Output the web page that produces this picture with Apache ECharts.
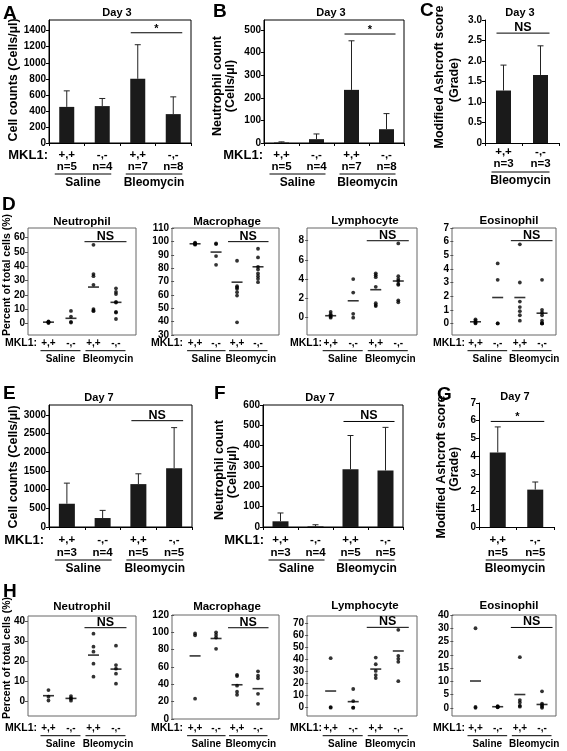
<!DOCTYPE html>
<html><head><meta charset="utf-8">
<script src="https://cdn.jsdelivr.net/npm/echarts@6/dist/echarts.min.js"></script>
<style>html,body{margin:0;padding:0;background:#fff}#c{width:567px;height:751px}</style>
</head><body><div id="c"></div>
<script>
// ================= DATA =================
const genotypes = ['+,+', '-,-', '+,+', '-,-'];
const genotypes2 = ['+,+', '-,-'];

// Day 3 bar panels
const nDay3 = ['n=5', 'n=4', 'n=7', 'n=8'];
const cellsDay3 = [450, 460, 800, 360];
const cellsDay3ErrTop = [650, 555, 1225, 575];
const neutDay3 = [2, 17, 235, 61];
const neutDay3ErrTop = [5, 40, 452, 130];
const nAsh3 = ['n=3', 'n=3'];
const ashDay3 = [1.28, 1.66];
const ashDay3ErrTop = [1.9, 2.37];

// Day 7 bar panels
const nDay7 = ['n=3', 'n=4', 'n=5', 'n=5'];
const cellsDay7 = [623, 240, 1149, 1576];
const cellsDay7ErrTop = [1175, 445, 1425, 2662];
const neutDay7 = [28, 3, 284, 278];
const neutDay7ErrTop = [69, 11, 450, 490];
const nAsh7 = ['n=5', 'n=5'];
const ashDay7 = [4.21, 2.11];
const ashDay7ErrTop = [5.65, 2.54];

// D: day 3 differential (%), dots per group and group mean
const dNeut = [[0.2, 0.6, 1.0, 1.4, 0.8], [8.7, 4.7, 1.0, 0.5], [55, 34.5, 33, 27, 10, 9, 8.5], [24.5, 22, 20.5, 15, 14.5, 8, 7.5, 3]];
const dNeutMean = [0.8, 3.5, 25.4, 14.7];
const dMac = [[97.5, 98, 98.5, 99, 98.2], [98.5, 98, 89, 82.5], [85.5, 66.5, 65.5, 64.5, 62, 59.5, 39.5], [94.5, 88, 81, 79, 76, 74, 72, 69.5]];
const dMacMean = [98.2, 92, 69.5, 81];
const dLym = [[0.6, 0.35, 0.2, 0.1, 0], [4.0, 2.6, 0.4, 0], [4.6, 4.4, 4.2, 3.2, 1.5, 1.3, 1.2], [7.7, 4.3, 4.0, 3.8, 3.5, 3.4, 1.8, 1.6]];
const dLymMean = [0.2, 1.75, 2.9, 3.8];
const dEos = [[0, 0.05, 0.1, 0.2, 0.3], [4.4, 3.2, 0, 0], [5.8, 3.0, 1.6, 1.2, 0.9, 0.6, 0.2], [3.2, 1.0, 0.8, 0.6, 0.2, 0, 0, 0]];
const dEosMean = [0.12, 1.9, 1.9, 0.75];

// H: day 7 differential (%)
const hNeut = [[5.8, 2.5, 0.6], [2.8, 1.8, 1.5, 0.5], [34, 27.5, 25, 19, 12.5], [28, 18.3, 16.5, 14, 9]];
const hNeutMean = [3.0, 1.65, 23.3, 16.3];
const hMac = [[98.7, 96.5, 23.5], [100, 97, 94, 81], [51, 49.5, 38.5, 31.5, 28], [55, 50, 47, 29, 17.5]];
const hMacMean = [72.8, 92.9, 39.5, 35];
const hLym = [[41, 0.5, 0], [15.5, 5.5, 0, 0], [41.5, 36, 30.5, 27, 24.5], [64.5, 43, 40.5, 38, 22]];
const hLymMean = [13.8, 5, 32, 47];
const hEos = [[30, 0.3, 0], [0.6, 0.4, 0.2, 0.3], [19.1, 2.9, 2, 0.8, 0.4], [6.2, 1.6, 1.0, 0.4, 0]];
const hEosMean = [10.1, 0.4, 5, 1.25];

// tick values and tick labels
const ticksCells3 = [0, 200, 400, 600, 800, 1000, 1200, 1400];
const ticksNeut3 = [0, 100, 200, 300, 400, 500];
const ticksAsh3 = [0, 0.5, 1, 1.5, 2, 2.5, 3];
const labelsAsh3 = ['0', '0.5', '1.0', '1.5', '2.0', '2.5', '3.0'];
const ticksCells7 = [0, 500, 1000, 1500, 2000, 2500, 3000];
const ticksNeut7 = [0, 100, 200, 300, 400, 500, 600];
const ticksAsh7 = [0, 1, 2, 3, 4, 5, 6, 7];
const ticksDNeut = [0, 10, 20, 30, 40, 50, 60];
const ticksDMac = [30, 40, 50, 60, 70, 80, 90, 100, 110];
const ticksDLym = [0, 2, 4, 6, 8];
const ticksDEos = [0, 1, 2, 3, 4, 5, 6, 7];
const ticksHNeut = [0, 10, 20, 30, 40];
const ticksHMac = [0, 20, 40, 60, 80, 100, 120];
const ticksHLym = [0, 10, 20, 30, 40, 50, 60, 70];
const ticksHEos = [0, 5, 10, 15, 20, 25, 30, 35];
const labelsHEos = ['0', '5', '10', '15', '20', '25', '30', '40'];

// ================= LAYOUT =================
const FONT = '"Liberation Sans", Arial, Helvetica, sans-serif';
const grids = [], xAxes = [], yAxes = [], series = [], graphics = [];

function txt(x, y, text, size, opt) {
  opt = opt || {};
  graphics.push({type: 'text', x: x, y: y, rotation: opt.rot || 0, silent: true, z: 10,
    style: {text: text, fill: '#000', font: 'bold ' + size + 'px ' + FONT,
      textAlign: opt.align || 'center', textVerticalAlign: 'middle'}});
}
function seg(x1, y1, x2, y2, c) {
  graphics.push({type: 'line', silent: true, z: 10, shape: {x1: x1, y1: y1, x2: x2, y2: y2},
    style: {stroke: c || '#000', lineWidth: 1}});
}
function lookup(ticks, labels) {
  return function (v) {
    for (let i = 0; i < ticks.length; i++) if (Math.abs(ticks[i] - v) < 1e-6) return labels ? labels[i] : String(ticks[i]);
    return '';
  };
}

function errItem(params, api) {
  const x = api.value(0);
  const p1 = api.coord([x, api.value(1)]);
  const p2 = api.coord([x, api.value(2)]);
  const st = {stroke: '#222', lineWidth: 1};
  return {type: 'group', children: [
    {type: 'line', shape: {x1: p1[0], y1: p1[1], x2: p2[0], y2: p2[1]}, style: st},
    {type: 'line', shape: {x1: p2[0] - 3, y1: p2[1], x2: p2[0] + 3, y2: p2[1]}, style: st}
  ]};
}

function barPanel(P) {
  const gi = grids.length;
  const n = P.vals.length;
  grids.push({left: P.l, top: P.t, width: P.r - P.l, height: P.b - P.t, show: P.frame,
    borderColor: '#000', borderWidth: 1, backgroundColor: 'transparent'});
  const lh = P.lh;
  xAxes.push({type: 'category', gridIndex: gi, data: P.geno.map((g, i) => g + '\n' + P.n[i]), boundaryGap: true,
    axisLine: {show: true, lineStyle: {color: '#000', width: 1}},
    axisTick: {show: true, length: 3, lineStyle: {color: '#000'}},
    axisLabel: {interval: 0, margin: P.labY - P.b - lh / 2, color: '#000', fontFamily: FONT, fontWeight: 'bold', fontSize: 11.5, lineHeight: lh},
    splitLine: {show: false}});
  yAxes.push({type: 'value', gridIndex: gi, min: 0, max: P.ymax,
    axisLine: {show: true, lineStyle: {color: '#000'}},
    axisTick: {show: true, length: 3, customValues: P.ticks, lineStyle: {color: '#000'}},
    axisLabel: {customValues: P.ticks, formatter: lookup(P.ticks, P.tickLabels), margin: 3, color: '#000', fontFamily: FONT, fontWeight: 'bold', fontSize: 10},
    splitLine: {show: false}});
  series.push({type: 'bar', xAxisIndex: gi, yAxisIndex: gi, data: P.vals, barWidth: P.bw, itemStyle: {color: '#1a1a1a'}, silent: true});
  series.push({type: 'custom', xAxisIndex: gi, yAxisIndex: gi, data: P.vals.map((v, i) => [i, v, P.err[i]]),
    encode: {x: 0, y: [1, 2]}, renderItem: errItem, silent: true, z: 3});
  const cx = i => P.l + (i + 0.5) * (P.r - P.l) / n;
  const yv = v => P.b - v / P.ymax * (P.b - P.t);
  txt(P.titleX, P.titleY, P.title, 11);
  const sy = yv(P.sig.y);
  seg(cx(P.sig.i) - 7, sy, cx(P.sig.j) + 9, sy);
  txt((cx(P.sig.i) - 7 + cx(P.sig.j) + 9) / 2, sy - (P.sig.txt === '*' ? 4 : 5.5), P.sig.txt, P.sig.txt === '*' ? 11 : 12.5);
  P.groups.forEach(g => {
    const x1 = cx(g[0]) - 12, x2 = cx(g[1]) + 9;
    seg(x1, P.ulY, x2, P.ulY);
    txt((x1 + x2) / 2, P.grpY, g[2], 12);
  });
  if (P.mklX) txt(P.mklX, P.labY, 'MKL1:', 13, {align: 'right'});
  P.yname.forEach(t => txt(t[0], t[1], t[2], 12.5, {rot: Math.PI / 2}));
}

function dotPanel(P) {
  const gi = grids.length;
  grids.push({left: P.l, top: P.t, width: P.r - P.l, height: P.b - P.t, show: true,
    borderColor: '#666', borderWidth: 1, backgroundColor: 'transparent'});
  xAxes.push({type: 'value', gridIndex: gi, min: P.xmin, max: P.xmax,
    axisLine: {show: false}, axisTick: {show: false}, splitLine: {show: false},
    axisLabel: {customValues: [1, 2, 3, 4], formatter: v => genotypes[Math.round(v) - 1] || '',
      margin: P.labY - P.b - 5, color: '#000', fontFamily: FONT, fontWeight: 'bold', fontSize: 10}});
  yAxes.push({type: 'value', gridIndex: gi, min: P.ymin, max: P.ymax,
    axisLine: {show: false},
    axisTick: {show: true, length: 3, customValues: P.ticks, lineStyle: {color: '#555'}},
    axisLabel: {customValues: P.ticks, formatter: lookup(P.ticks, P.tickLabels), margin: 3, color: '#000', fontFamily: FONT, fontWeight: 'bold', fontSize: 10},
    splitLine: {show: false}});
  series.push({type: 'scatter', xAxisIndex: gi, yAxisIndex: gi, symbol: 'circle', symbolSize: 3.8,
    itemStyle: {color: '#000'}, silent: true,
    data: P.vals.flatMap((arr, i) => arr.map(v => [i + 1, v]))});
  series.push({type: 'scatter', xAxisIndex: gi, yAxisIndex: gi, symbol: 'rect', symbolSize: [11, 1.6],
    itemStyle: {color: '#000'}, silent: true, z: 3,
    data: P.mean.map((m, i) => [i + 1, m])});
  const cx = i => P.l + (i + 1 - P.xmin) / (P.xmax - P.xmin) * (P.r - P.l);
  const yv = v => P.b - (v - P.ymin) / (P.ymax - P.ymin) * (P.b - P.t);
  txt(P.titleX, P.titleY, P.title, 11.5);
  const sy = yv(P.sigY);
  const s1 = cx(2) - 9, s2 = cx(3) + 10.5;
  seg(s1, sy, s2, sy);
  txt((s1 + s2) / 2, sy - 5.5, 'NS', 12.5);
  [[0, 1, 'Saline', 0], [2, 3, 'Bleomycin', 2.5]].forEach(g => {
    const x1 = cx(g[0]) - 8, x2 = cx(g[1]) + 9.5;
    seg(x1, P.ulY, x2, P.ulY);
    txt((x1 + x2) / 2 + g[3], P.grpY, g[2], 10);
  });
  txt(P.mklX, P.labY, 'MKL1:', 10.5, {align: 'right'});
  if (P.yname) txt(P.yname[0], P.yname[1], P.yname[2], 10.5, {rot: Math.PI / 2});
}

const grpSB = [[0, 1, 'Saline'], [2, 3, 'Bleomycin']];
const grpB = [[0, 1, 'Bleomycin']];

// Row 1
barPanel({l: 49, t: 20, r: 191, b: 143, ymax: 1533, ticks: ticksCells3, frame: true, bw: 15, lh: 12,
  geno: genotypes, n: nDay3, vals: cellsDay3, err: cellsDay3ErrTop, title: 'Day 3', titleX: 117, titleY: 13,
  sig: {i: 2, j: 3, y: 1374, txt: '*'}, groups: grpSB, labY: 155, ulY: 174, grpY: 183, mklX: 48,
  yname: [[14, 80, 'Cell counts (Cells/µl)']]});
barPanel({l: 264, t: 20, r: 404, b: 143, ymax: 544, ticks: ticksNeut3, frame: true, bw: 15, lh: 12,
  geno: genotypes, n: nDay3, vals: neutDay3, err: neutDay3ErrTop, title: 'Day 3', titleX: 331, titleY: 13,
  sig: {i: 2, j: 3, y: 482, txt: '*'}, groups: grpSB, labY: 155, ulY: 174, grpY: 183, mklX: 263,
  yname: [[218, 86, 'Neutrophil count'], [231, 86, '(Cells/µl)']]});
barPanel({l: 485, t: 20, r: 559, b: 143, ymax: 3, ticks: ticksAsh3, tickLabels: labelsAsh3, frame: false, bw: 15, lh: 12,
  geno: genotypes2, n: nAsh3, vals: ashDay3, err: ashDay3ErrTop, title: 'Day 3', titleX: 520, titleY: 13,
  sig: {i: 0, j: 1, y: 2.68, txt: 'NS'}, groups: grpB, labY: 152, ulY: 172, grpY: 181, mklX: 0,
  yname: [[440, 77, 'Modified Ashcroft score'], [455, 80, '(Grade)']]});

// Row 3 (E, F, G)
barPanel({l: 49, t: 405, r: 192, b: 527, ymax: 3268, ticks: ticksCells7, frame: true, bw: 16, lh: 13,
  geno: genotypes, n: nDay7, vals: cellsDay7, err: cellsDay7ErrTop, title: 'Day 7', titleX: 99, titleY: 398,
  sig: {i: 2, j: 3, y: 2848, txt: 'NS'}, groups: grpSB, labY: 540, ulY: 560, grpY: 568.5, mklX: 44,
  yname: [[14, 467, 'Cell counts (Cells/µl)']]});
barPanel({l: 263, t: 405, r: 403, b: 527, ymax: 600, ticks: ticksNeut7, frame: true, bw: 16, lh: 13,
  geno: genotypes, n: nDay7, vals: neutDay7, err: neutDay7ErrTop, title: 'Day 7', titleX: 320, titleY: 398,
  sig: {i: 2, j: 3, y: 519, txt: 'NS'}, groups: grpSB, labY: 540, ulY: 560, grpY: 568.5, mklX: 264,
  yname: [[220, 470, 'Neutrophil count'], [233, 472, '(Cells/µl)']]});
barPanel({l: 479, t: 403, r: 554, b: 527, ymax: 7, ticks: ticksAsh7, frame: false, bw: 16, lh: 13,
  geno: genotypes2, n: nAsh7, vals: ashDay7, err: ashDay7ErrTop, title: 'Day 7', titleX: 515, titleY: 397,
  sig: {i: 0, j: 1, y: 5.96, txt: '*'}, groups: grpB, labY: 540, ulY: 560, grpY: 568.5, mklX: 0,
  yname: [[442, 467, 'Modified Ashcroft score'], [455, 469, '(Grade)']]});

// Rows D and H
const rowD = {labY: 343.3, ulY: 350.7, grpY: 359};
const rowH = {labY: 728.3, ulY: 735.7, grpY: 744.3};
const colX = [
  {l: 28, r: 136, xmin: 0.09, xmax: 4.89, mklX: 37, titleX: 82},
  {l: 172, r: 279, xmin: -0.1, xmax: 5.0, mklX: 183, titleX: 227},
  {l: 307, r: 417, xmin: -0.05, xmax: 4.83, mklX: 322, titleX: 365},
  {l: 452, r: 556, xmin: -0.06, xmax: 4.63, mklX: 465, titleX: 509}
];
dotPanel(Object.assign({}, colX[0], rowD, {t: 228, b: 335, ymin: -8.2, ymax: 66.8, ticks: ticksDNeut,
  vals: dNeut, mean: dNeutMean, title: 'Neutrophil', titleY: 221.5, sigY: 57.2,
  yname: [7, 275, 'Percent of total cells (%)']}));
dotPanel(Object.assign({}, colX[1], rowD, {t: 228, b: 335, ymin: 30, ymax: 110, ticks: ticksDMac,
  vals: dMac, mean: dMacMean, title: 'Macrophage', titleY: 221.5, sigY: 99.8}));
dotPanel(Object.assign({}, colX[2], rowD, {t: 228, b: 335, ymin: -1.8, ymax: 9.3, ticks: ticksDLym,
  vals: dLym, mean: dLymMean, title: 'Lymphocyte', titleY: 220.5, sigY: 7.98}));
dotPanel(Object.assign({}, colX[3], rowD, {t: 228, b: 335, ymin: -0.85, ymax: 7, ticks: ticksDEos,
  vals: dEos, mean: dEosMean, title: 'Eosinophil', titleY: 220.5, sigY: 6.07}));

dotPanel(Object.assign({}, colX[0], rowH, {t: 616, b: 716, ymin: -7.15, ymax: 42.85, ticks: ticksHNeut,
  vals: hNeut, mean: hNeutMean, title: 'Neutrophil', titleY: 606.5, sigY: 37,
  yname: [7, 658, 'Percent of total cells (%)']}));
dotPanel(Object.assign({}, colX[1], rowH, {t: 615, b: 719, ymin: 0, ymax: 120, ticks: ticksHMac,
  vals: hMac, mean: hMacMean, title: 'Macrophage', titleY: 606.5, sigY: 105.3}));
dotPanel(Object.assign({}, colX[2], rowH, {t: 616, b: 716, ymin: -6.9, ymax: 76, ticks: ticksHLym,
  vals: hLym, mean: hLymMean, title: 'Lymphocyte', titleY: 606, sigY: 66.6}));
dotPanel(Object.assign({}, colX[3], rowH, {t: 615, b: 716, ymin: -3.1, ymax: 35, ticks: ticksHEos, tickLabels: labelsHEos,
  vals: hEos, mean: hEosMean, title: 'Eosinophil', titleY: 606, sigY: 30.3}));

// panel letters
[['A', 3, 14], ['B', 213, 12], ['C', 420, 11], ['D', 2, 205], ['E', 3, 394], ['F', 214, 394], ['G', 437, 395], ['H', 3, 592]]
  .forEach(p => txt(p[1], p[2], p[0], 19, {align: 'left'}));

const chart = echarts.init(document.getElementById('c'), null, {renderer: 'canvas'});
chart.setOption({
  animation: false,
  backgroundColor: '#fff',
  textStyle: {fontFamily: FONT},
  grid: grids, xAxis: xAxes, yAxis: yAxes, series: series, graphic: {elements: graphics}
});
</script>
</body></html>
